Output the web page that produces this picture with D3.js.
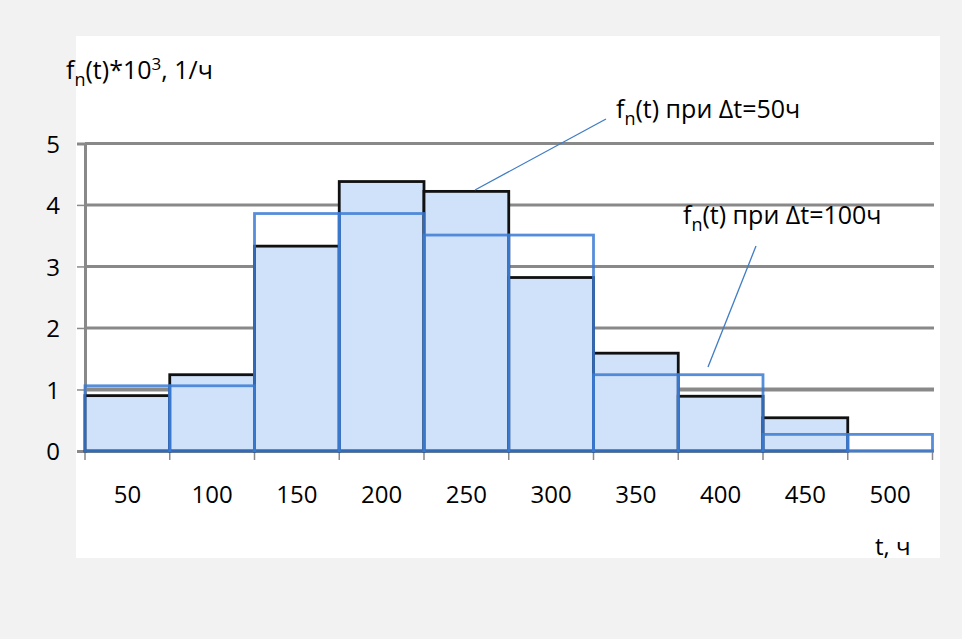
<!DOCTYPE html>
<html>
<head>
<meta charset="utf-8">
<script src="https://cdn.jsdelivr.net/npm/d3@7"></script>
<style>
  html, body { margin: 0; padding: 0; background: #f2f2f2; }
  svg { display: block; }
  text { font-family: "Open Sans", "Noto Sans", sans-serif; fill: #000; }
</style>
</head>
<body>
<svg id="chart" width="962" height="639"></svg>
<script>
// ---- data ----
const categories = ["50", "100", "150", "200", "250", "300", "350", "400", "450", "500"];
// f_n(t)*10^3 at Δt = 50 h
const seriesDt50 = [0.90, 1.24, 3.33, 4.38, 4.22, 2.82, 1.59, 0.89, 0.54, 0];
// f_n(t)*10^3 at Δt = 100 h (each 100 h interval spans two 50 h columns)
const seriesDt100 = [1.06, 1.06, 3.86, 3.86, 3.51, 3.51, 1.24, 1.24, 0.27, 0.27];
const yTicks = [0, 1, 2, 3, 4, 5];

const svg = d3.select("#chart");
const W = 962, H = 639;
const FS = 24;
const LFS = 25;

svg.append("rect").attr("width", W).attr("height", H).attr("fill", "#f2f2f2");
svg.append("rect").attr("x", 76).attr("y", 36).attr("width", 864).attr("height", 522).attr("fill", "#ffffff");

const x = d3.scaleBand().domain(categories).range([85, 932.5]).padding(0);
const y = d3.scaleLinear().domain([0, 5]).range([451, 143.4]);

const gridColor = "#898989";

// gridlines
svg.append("g").selectAll("line").data(yTicks.filter(d => d > 0)).join("line")
  .attr("x1", 85).attr("x2", 934)
  .attr("y1", d => y(d)).attr("y2", d => y(d))
  .attr("stroke", gridColor)
  .attr("stroke-width", d => d === 1 ? 4 : 3);

// x axis line + ticks at band edges
const edges = categories.map(c => x(c)).concat([x(categories[categories.length - 1]) + x.bandwidth()]);
svg.append("line").attr("x1", 85).attr("x2", 934).attr("y1", y(0)).attr("y2", y(0))
  .attr("stroke", gridColor).attr("stroke-width", 3);
svg.append("g").selectAll("line").data(edges).join("line")
  .attr("x1", d => d).attr("x2", d => d).attr("y1", y(0)).attr("y2", y(0) + 9)
  .attr("stroke", gridColor).attr("stroke-width", 1.5);

// y axis
const yAxis = d3.axisLeft(y).tickValues(yTicks).tickSize(8).tickPadding(0).tickFormat(d3.format("d"));
const gy = svg.append("g").attr("transform", "translate(85,0)").call(yAxis);
gy.select(".domain").attr("stroke", gridColor).attr("stroke-width", 3);
gy.selectAll(".tick line").attr("stroke", gridColor).attr("stroke-width", 1.5);
gy.selectAll(".tick text")
  .attr("x", -32).attr("dy", "0.36em")
  .attr("text-anchor", "middle")
  .style("font-size", FS + "px")
  .style("font-family", "'Open Sans', sans-serif")
  .attr("fill", "#000");

// x labels via axis (no tick marks)
const xAxis = d3.axisBottom(x).tickSize(0).tickPadding(0);
const gx = svg.append("g").attr("transform", `translate(0,${y(0)})`).call(xAxis);
gx.select(".domain").remove();
gx.selectAll(".tick text")
  .attr("y", 52).attr("dy", 0)
  .style("font-size", FS + "px")
  .style("font-family", "'Open Sans', sans-serif")
  .attr("fill", "#000");

// Δt = 50 bars (filled, black outline)
svg.append("g").selectAll("rect").data(categories.map((c, i) => ({ c, v: seriesDt50[i] })).filter(d => d.v > 0))
  .join("rect")
  .attr("x", d => x(d.c)).attr("width", x.bandwidth())
  .attr("y", d => y(d.v)).attr("height", d => y(0) - y(d.v))
  .attr("fill", "#d0e2f9")
  .attr("stroke", "#111").attr("stroke-width", 2.8);

// Δt = 100 bars (outline only, blue)
svg.append("g").selectAll("rect").data(categories.map((c, i) => ({ c, v: seriesDt100[i] })))
  .join("rect")
  .attr("x", d => x(d.c)).attr("width", x.bandwidth())
  .attr("y", d => y(d.v)).attr("height", d => y(0) - y(d.v))
  .attr("fill", "none")
  .attr("stroke", "#3a7ad4").attr("stroke-opacity", 0.85).attr("stroke-width", 2.8);

// title
const t = svg.append("text").attr("x", 66).attr("y", 79).style("font-size", LFS + "px");
t.append("tspan").text("f");
t.append("tspan").attr("dy", 7).style("font-size", "18px").text("n");
t.append("tspan").attr("dy", -7).text("(t)*10");
t.append("tspan").attr("dy", -9).style("font-size", "17px").text("3");
t.append("tspan").attr("dy", 9).text(", 1/ч");

// legend labels
function label(xp, yp, txt) {
  const l = svg.append("text").attr("x", xp).attr("y", yp).style("font-size", LFS + "px");
  l.append("tspan").text("f");
  l.append("tspan").attr("dy", 7).style("font-size", "18px").text("n");
  l.append("tspan").attr("dy", -7).text(txt);
}
label(616, 118, "(t) при Δt=50ч");
label(683, 224, "(t) при Δt=100ч");

// leader lines
svg.append("line").attr("x1", 606).attr("y1", 119).attr("x2", 475).attr("y2", 190)
  .attr("stroke", "#3f7cc4").attr("stroke-width", 1.3);
svg.append("line").attr("x1", 756).attr("y1", 246).attr("x2", 708).attr("y2", 367)
  .attr("stroke", "#3f7cc4").attr("stroke-width", 1.3);

// x axis title
svg.append("text").attr("x", 875).attr("y", 555).style("font-size", FS + "px").text("t, ч");
</script>
</body>
</html>
